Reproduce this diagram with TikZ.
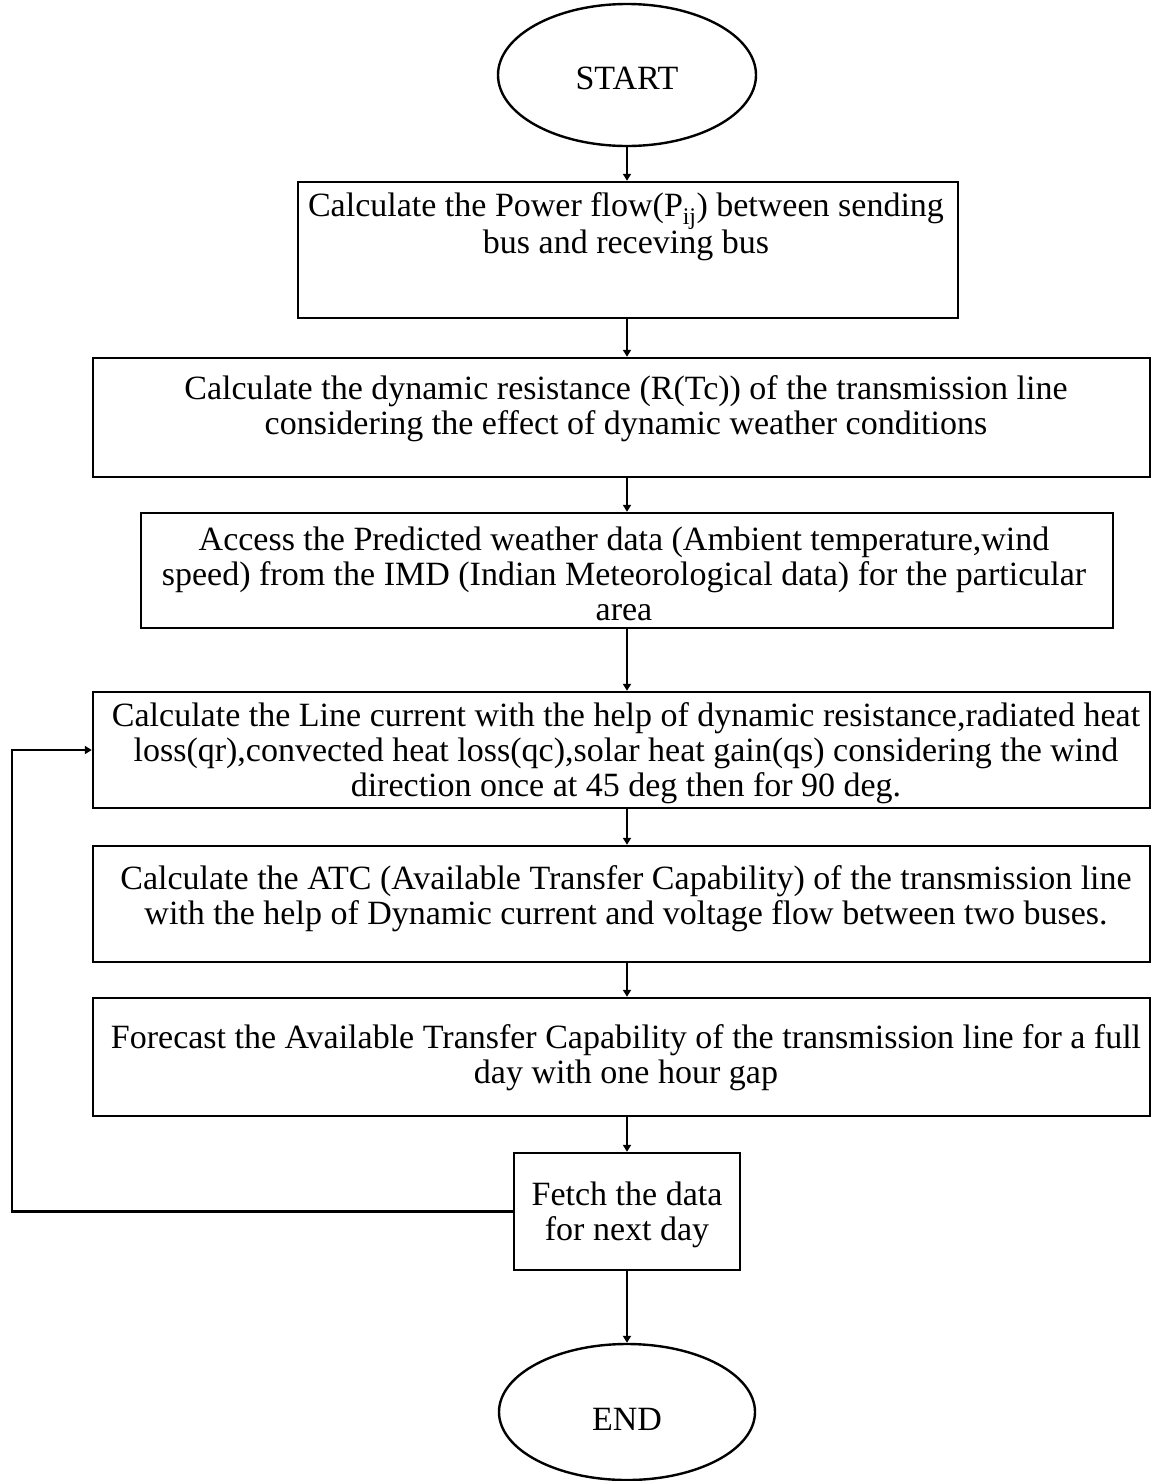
\documentclass[tikz,border=0pt]{standalone}
\usepackage{fontspec}
\setmainfont{Liberation Serif}
\usetikzlibrary{arrows.meta,shapes.geometric}
\tikzset{
  boxnode/.style={draw, line width=2.4pt, rectangle, inner sep=0pt},
  ovalnode/.style={draw, line width=2.4pt, ellipse, inner sep=0pt},
  txt/.style={align=center, inner sep=0pt, font=\fontsize{34}{35}\selectfont},
  arr/.style={line width=2.2pt, -{Triangle[width=8pt,length=7pt]}}
}
\begin{document}
\begin{tikzpicture}[x=1pt,y=-1pt]
\useasboundingbox (0,0) rectangle (1152,1481);
% start / end
\node[ovalnode, minimum width=258pt, minimum height=142pt] (start) at (627,75) {};
\node[txt] (starttxt) at (627,78) {START};
\node[ovalnode, minimum width=256pt, minimum height=136pt] (end) at (627,1412) {};
\node[txt] (endtxt) at (627,1419) {END};
% boxes
\node[boxnode, minimum width=660pt, minimum height=136pt] (b1) at (628,250) {};
\node[txt] (t1) at (626,227) {Calculate the Power flow(P\textsubscript{ij}) between sending\\bus and receving bus};
\node[boxnode, minimum width=1057pt, minimum height=119pt] (b2) at (621.5,417.5) {};
\node[txt] (t2) at (626,409) {Calculate the dynamic resistance (R(Tc)) of the transmission line\\considering the effect of dynamic weather conditions};
\node[boxnode, minimum width=972pt, minimum height=115pt] (b3) at (627,570.5) {};
\node[txt] (t3) at (624,574) {Access the Predicted weather data (Ambient temperature,wind\\speed) from the IMD (Indian Meteorological data) for the particular\\area};
\node[boxnode, minimum width=1057pt, minimum height=116pt] (b4) at (621.5,750) {};
\node[txt] (t4) at (626,753) {Calculate the Line current with the help of dynamic resistance,radiated heat\\loss(qr),convected heat loss(qc),solar heat gain(qs) considering the wind\\direction once at 45 deg then for 90 deg.};
\node[boxnode, minimum width=1057pt, minimum height=116pt] (b5) at (621.5,904) {};
\node[txt] (t5) at (626,899) {Calculate the ATC (Available Transfer Capability) of the transmission line\\with the help of Dynamic current and voltage flow between two buses.};
\node[boxnode, minimum width=1057pt, minimum height=118pt] (b6) at (621.5,1057) {};
\node[txt] (t6) at (626,1058) {Forecast the Available Transfer Capability of the transmission line for a full\\day with one hour gap};
\node[boxnode, minimum width=226pt, minimum height=117pt] (b7) at (627,1211.5) {};
\node[txt] (t7) at (627,1215) {Fetch the data\\for next day};
% connectors
\draw[arr] (start.south) -- (start.south |- b1.north);
\draw[arr] (b1.south -| start.south) -- (start.south |- b2.north);
\draw[arr] (b2.south -| start.south) -- (start.south |- b3.north);
\draw[arr] (b3.south -| start.south) -- (start.south |- b4.north);
\draw[arr] (b4.south -| start.south) -- (start.south |- b5.north);
\draw[arr] (b5.south -| start.south) -- (start.south |- b6.north);
\draw[arr] (b6.south -| start.south) -- (b7.north);
\draw[arr] (b7.south) -- (end.north);
\coordinate (loopc) at (12,1211.5);
\draw[arr] (b7.west) -- (loopc) |- (b4.west);
\end{tikzpicture}
\end{document}
